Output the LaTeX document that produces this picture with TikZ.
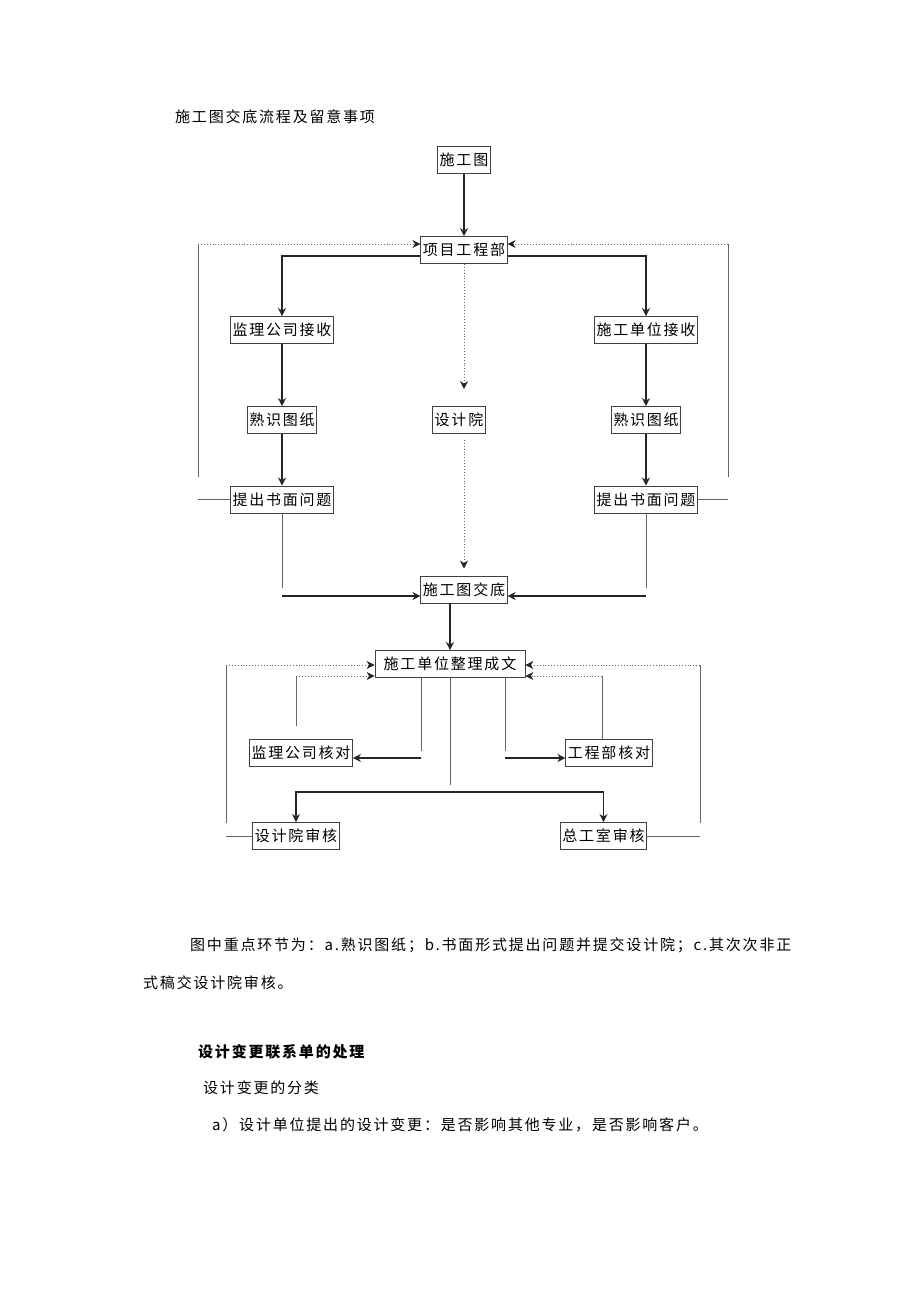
\documentclass[tikz,border=0pt]{standalone}
\usepackage{fontspec}
\newfontfamily\cjk[LetterSpace=12]{Noto Sans CJK SC}
\usetikzlibrary{arrows.meta}

\begin{document}
\begin{tikzpicture}[x=1pt, y=-1pt, >={Stealth[length=8pt,width=8pt]},
    box/.style={ draw=black!75, line width=0.9pt, inner sep=2pt,
    minimum height=27pt, font=\cjk\fontsize{15}{15}\selectfont },
    txt/.style={ anchor=west, inner sep=0pt,
    font=\cjk\fontsize{15}{15}\selectfont },
    arr/.style={ ->, line width=1.6pt, draw=black!85 },
    thinline/.style={ line width=0.9pt, draw=black!60 },
    dotline/.style={ -{Stealth[length=8pt,width=8pt,color=black!85]},
    dotted, line width=0.9pt, draw=black!60 } ]
  \useasboundingbox[fill=white] (0,0) rectangle (920,1301);
  % texts
  \node[txt] (title) at (175,117) {施工图交底流程及留意事项};
  \node[txt] (p1) at (190,945) {图中重点环节为：a.熟识图纸；b.书面形式提出问题并提交设计院；c.其次次非正};
  \node[txt] (p2) at (143,983) {式稿交设计院审核。};
  \node[txt, font=\cjk\bfseries\fontsize{15}{15}\selectfont] (h1) at (198,1052) {设计变更联系单的处理};
  \node[txt] (h2) at (203,1088) {设计变更的分类};
  \node[txt] (h3) at (212,1125) {a）设计单位提出的设计变更：是否影响其他专业，是否影响客户。};
  % boxes
  \foreach \n/\x/\y/\t in {n0/464/160/施工图, n1/464/250/项目工程部,
    a1/282/330/监理公司接收, b1/646/330/施工单位接收, a2/282/420/熟识图纸,
    dy/459/420/设计院, b2/646/420/熟识图纸, a3/282/499.5/提出书面问题,
    b3/646/499.5/提出书面问题, jd/464/589.5/施工图交底, jl/301/753/监理公司核对,
    gk/609/753/工程部核对, sy/296/836/设计院审核, zg/603.5/836/总工室审核}
  \node[box] (\n) at (\x,\y) {\t};
  \node[box, minimum width=150pt] (zl) at (450,664) {施工单位整理成文};
  % corners
  \foreach \n/\x/\y in {ol1/198/477, ol2/198/244, or1/728/477, or2/728/244,
    ja1/282/588, ja2/282/596, jb1/646/588, jb2/646/596,
    zo1/226/823, zo2/226/665, zr1/700/823, zr2/700/665,
    zi1/296/726, zi2/296/676, zri/602/676,
    zj1/421/751, zj2/421/758, zk1/505/751, zk2/505/758,
    zc/450/785, zh/450/792}
  \coordinate (\n) at (\x,\y);
  % upper part
  \draw[arr] (n0) -- (n1);
  \draw[arr] ([yshift=-6pt]n1.west) -| (a1.north);
  \draw[arr] ([yshift=-6pt]n1.east) -| (b1.north);
  \draw[dotline, shorten >=17pt] (n1.south) -- (n1.south |- dy.north);
  \draw[dotline, shorten <=6pt, shorten >=7pt] (n1.south |- dy.south) -- (jd.north);
  \draw[arr] (a1) -- (a2);
  \draw[arr] (a2) -- (a3);
  \draw[arr] (b1) -- (b2);
  \draw[arr] (b2) -- (b3);
  \draw[thinline] (a3.west) -- (a3.west -| ol1);
  \draw[thinline] (ol1) -- (ol2);
  \draw[dotline] (ol2) -- (ol2 -| n1.west);
  \draw[thinline] (b3.east) -- (b3.east -| or1);
  \draw[thinline] (or1) -- (or2);
  \draw[dotline] (or2) -- (or2 -| n1.east);
  \draw[thinline] (a3.south) -- (ja1);
  \draw[arr] (ja2) -- (ja2 -| jd.west);
  \draw[thinline] (b3.south) -- (jb1);
  \draw[arr] (jb2) -- (jb2 -| jd.east);
  \draw[arr] (jd.south -| zl.north) -- (zl.north);
  % lower part
  \draw[thinline] (sy.west) -- (sy.west -| zo1);
  \draw[thinline] (zo1) -- (zo2);
  \draw[dotline] (zo2) -- (zo2 -| zl.west);
  \draw[thinline] (zg.east) -- (zg.east -| zr1);
  \draw[thinline] (zr1) -- (zr2);
  \draw[dotline] (zr2) -- (zr2 -| zl.east);
  \draw[thinline] (zi1) -- (zi2);
  \draw[dotline] (zi2) -- (zi2 -| zl.west);
  \draw[thinline] (zri |- gk.north) -- (zri);
  \draw[dotline] (zri) -- (zri -| zl.east);
  \draw[thinline] (zj1 |- zl.south) -- (zj1);
  \draw[arr] (zj2) -- (zj2 -| jl.east);
  \draw[thinline] (zk1 |- zl.south) -- (zk1);
  \draw[arr] (zk2) -- (zk2 -| gk.west);
  \draw[thinline] (zl.south) -- (zc);
  \draw[arr] (zh) -| (sy.north);
  \draw[arr] (zh) -| (zg.north);
\end{tikzpicture}
\end{document}
